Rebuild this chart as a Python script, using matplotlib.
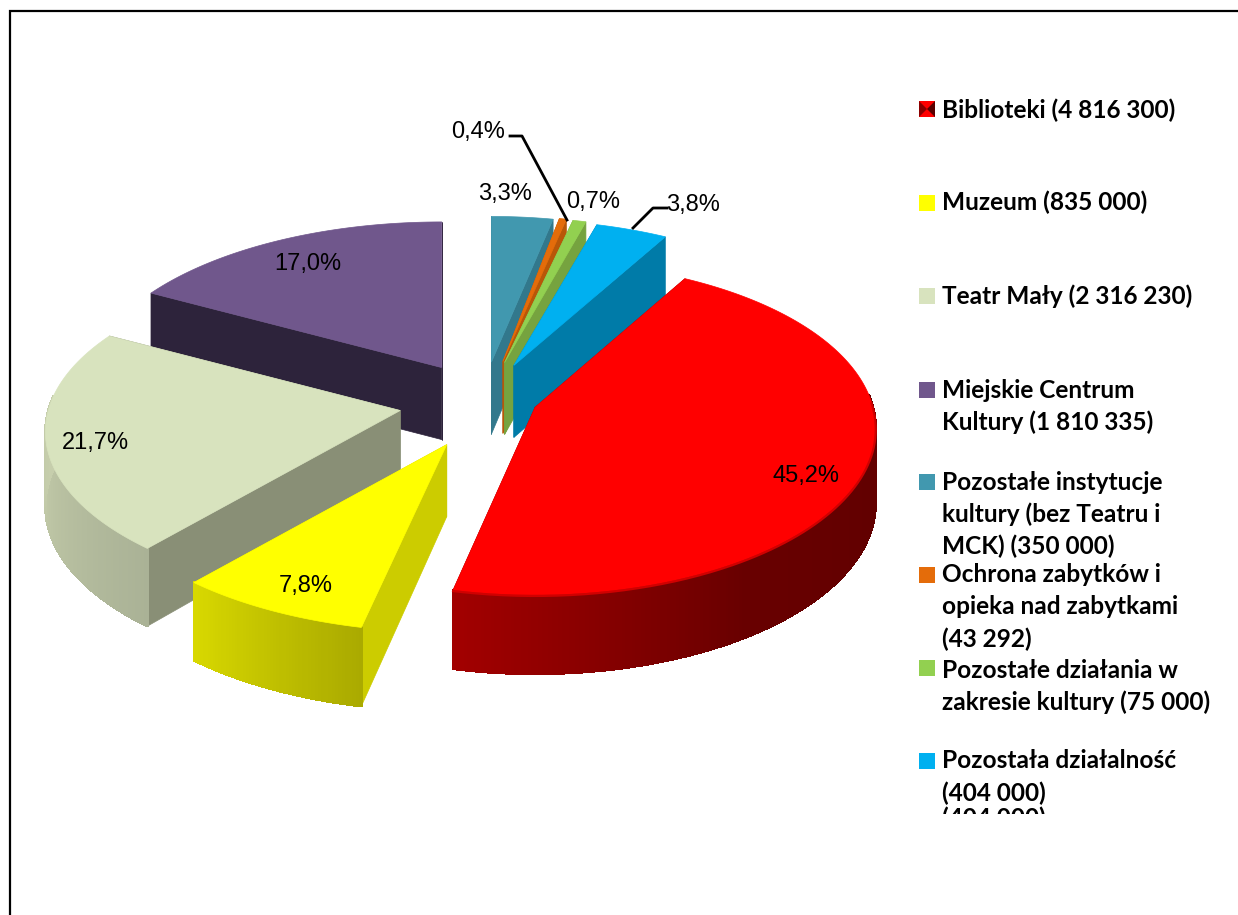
import numpy as np
import matplotlib
matplotlib.use("Agg")
import matplotlib.pyplot as plt
from matplotlib.collections import PolyCollection
from matplotlib.patches import Polygon, Rectangle
from matplotlib.transforms import Bbox, TransformedBbox

# ---------- data ----------
names = ["Biblioteki (4 816 300)", "Muzeum (835 000)", "Teatr Mały (2 316 230)",
         "Miejskie Centrum\nKultury (1 810 335)",
         "Pozostałe instytucje\nkultury (bez Teatru i\nMCK) (350 000)",
         "Ochrona zabytków i\nopieka nad zabytkami\n(43 292)",
         "Pozostałe działania w\nzakresie kultury (75 000)",
         "Pozostała działalność\n(404 000)"]
values = [4816300, 835000, 2316230, 1810335, 350000, 43292, 75000, 404000]

# ---------- styles ----------
top_colors = ["#FF0000", "#FFFF00", "#D8E3BE", "#70578C", "#4198AF", "#E46C0A", "#92D050", "#00B0F0"]
wall_colors = ["#7A0000", "#CCCC00", "#898F76", "#2D233B", "#32788C", "#B85708", "#76A33F", "#007BA8"]
# rim colour stops: (fraction through the slice, clockwise ; rgb)
rim_stops = [
    [(0, (105, 0, 0)), (.5, (98, 0, 0)), (.72, (104, 0, 0)), (1, (162, 0, 0))],
    [(0, (170, 170, 0)), (1, (216, 216, 0))],
    [(0, (170, 178, 150)), (.6, (196, 204, 170)), (1, (205, 213, 180))],
    [(0, (45, 35, 59)), (1, (45, 35, 59))],
    [(0, (50, 120, 140)), (1, (50, 120, 140))],
    [(0, (184, 87, 8)), (1, (184, 87, 8))],
    [(0, (118, 163, 63)), (1, (118, 163, 63))],
    [(0, (0, 123, 168)), (1, (0, 123, 168))],
]
explode = [.125, .27, .255, .258, .26, .26, .255, .235]
shift_x = [7, 2, 1.5, 1, -5, -4, -5, -5]
shift_y = [-3, 2, 0, 1, 1.5, 0, 0, -2]
scale_x = [.96, 1, 1, 1, .96, .88, .95, .97]
draw_order = [3, 4, 5, 6, 7, 2, 1, 0]
label_pos = [(806, 476), (306, 586), (95, 443), (308, 264), (505, 194), (478, 132), (593, 202), (693, 205)]
swatch_y = [109, 203, 296, 390, 482, 575, 668, 761]
legend_y = [110, 202, 296, 390, 482, 575, 670, 761]
LEG_SIZE = 17.6

CX, CY = 487, 403
RX, RY, K = 352, 164, .126
DEPTH = 74

plt.rcParams["font.family"] = ["Liberation Sans", "DejaVu Sans"]
fig = plt.figure(figsize=(12.38, 9.15), dpi=100)
ax = fig.add_axes([0, 0, 1, 1])
ax.set_xlim(0, 1238)
ax.set_ylim(915, 0)
ax.axis("off")


def project(theta):
    """theta in degrees, clockwise from 12 o'clock -> offset on screen."""
    t = np.radians(theta)
    X, Y = np.sin(t), np.cos(t)
    w = 1 + K * Y
    return RX * X / w, -RY * Y / w


def depth(theta):
    return DEPTH - 5 * np.cos(np.radians(theta))


vals = np.array(values, float)
total = vals.sum()
sweeps = vals / total * 360
rotation = sweeps[4:].sum()
starts = rotation + np.concatenate([[0], np.cumsum(sweeps)[:-1]])
ends = starts + sweeps

for i in draw_order:
    a0, a1 = starts[i], ends[i]
    mid = (a0 + a1) / 2
    t = np.radians(mid)
    ax_ = CX + RX * explode[i] * np.sin(t) + shift_x[i]
    ay_ = CY - RY * explode[i] * np.cos(t) + shift_y[i]
    thetas = np.linspace(a0, a1, max(int(sweeps[i] * 2), 6))
    px, py = project(thetas)
    px, py = ax_ + px * scale_x[i], ay_ + py
    dz = depth(thetas)
    apex_d = DEPTH - 2
    z = 10 + draw_order.index(i)
    # radial walls
    for idx in (0, -1):
        ax.add_patch(Polygon([(ax_, ay_), (px[idx], py[idx]), (px[idx], py[idx] + dz[idx]), (ax_, ay_ + apex_d)],
                             closed=True, fc=wall_colors[i], ec=wall_colors[i], lw=.5, zorder=z))
    # rim, front-facing part only
    fr = np.linspace(0, 1, len(thetas) - 1)
    sf = [s[0] for s in rim_stops[i]]
    cols = np.array([np.interp(fr, sf, [s[1][c] for s in rim_stops[i]]) for c in range(3)]).T / 255
    keep = [j for j in range(len(thetas) - 1) if np.cos(np.radians(thetas[j])) < .08]
    quads = [[(px[j], py[j]), (px[j + 1], py[j + 1]), (px[j + 1], py[j + 1] + dz[j + 1]), (px[j], py[j] + dz[j])]
             for j in keep]
    if quads:
        ax.add_collection(PolyCollection(quads, facecolors=cols[keep], edgecolors=cols[keep], linewidths=1,
                                         antialiaseds=False, zorder=z))
    # top
    ax.add_patch(Polygon(np.column_stack([np.r_[ax_, px], np.r_[ay_, py]]), closed=True,
                         fc=top_colors[i], ec=top_colors[i], lw=.5, zorder=z + .5))
    if i == 0:
        front = thetas > 88
        ax.plot(px[front], py[front] + 1, color="#D00000", lw=1.6, zorder=z + .6)

# percentage labels
for v, (x, y) in zip(vals, label_pos):
    ax.text(x, y, f"{v / total * 100:.1f}".replace(".", ",") + "%", ha="center", va="center",
            fontsize=17, color="black", zorder=30)

# leader lines
ax.plot([510, 522, 567], [136, 136, 220], color="black", lw=2, zorder=25)
ax.plot([667, 653, 633], [208, 208, 228], color="black", lw=2, zorder=25)

# legend
LEG_FONT = "Lato"
for i, name in enumerate(names):
    y = swatch_y[i]
    ax.add_patch(Rectangle((919, y - 8), 16, 16, fc=top_colors[i], ec="none", zorder=20))
    for k, line in enumerate(name.split("\n")):
        ax.text(942, legend_y[i] + 32 * k, line, ha="left", va="center", family=LEG_FONT,
                weight="bold", fontsize=LEG_SIZE, color="black", zorder=30)

# shaded red legend key
s = swatch_y[0]
ax.add_patch(Polygon([(919, s - 8), (927, s), (919, s + 8)], fc="#8A0000", ec="none", zorder=21))
ax.add_patch(Polygon([(935, s - 8), (927, s), (935, s + 8)], fc="#5A0000", ec="none", zorder=21))

# clipped repeated last legend line
clip = TransformedBbox(Bbox([[900, 700], [1238, 814]]), ax.transData)
extra = ax.text(942, 818, names[-1].split("\n")[-1], ha="left", va="center", family=LEG_FONT,
                weight="bold", fontsize=LEG_SIZE, color="black", zorder=30)
extra.set_clip_path(None)
extra.set_clip_box(clip)
extra.set_clip_on(True)

# chart frame running past the picture
ax.plot([1238, 10, 10], [11, 11, 915], color="black", lw=1.6, zorder=40, solid_joinstyle="miter")

fig.savefig("out.png", dpi=100)
